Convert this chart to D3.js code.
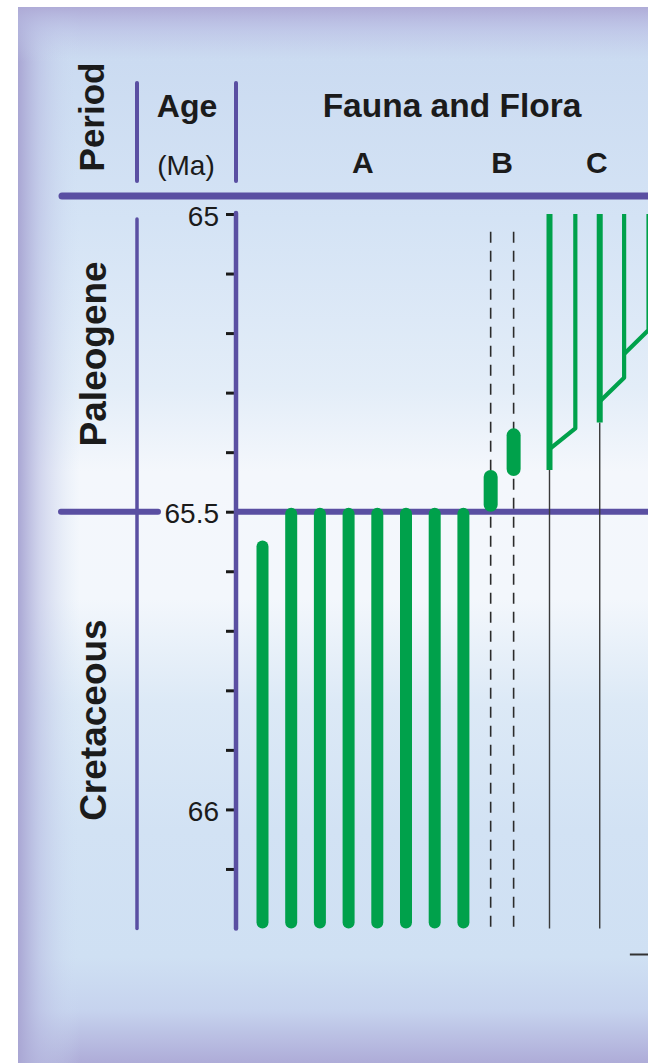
<!DOCTYPE html>
<html>
<head>
<meta charset="utf-8">
<script src="https://cdn.jsdelivr.net/npm/d3@7"></script>
<style>
  html, body { margin: 0; padding: 0; background: #ffffff; }
  svg { display: block; }
  text { font-family: "Liberation Sans", Arial, Helvetica, sans-serif; fill: #1b1b1b; }
</style>
</head>
<body>
<svg id="chart" width="648" height="1063"></svg>
<script>
// ---- Age axis (Ma) ----
const ageDomain = [65, 66.2];
const ageTicks = [65, 65.1, 65.2, 65.3, 65.4, 65.5, 65.6, 65.7, 65.8, 65.9, 66, 66.1];
const ageTickLabels = [65, 65.5, 66];

// ---- Periods ----
const periodNames = ["Paleogene", "Cretaceous"];
const periodBounds = [64.97, 65.5, 66.2];   // header rule, K-Pg boundary, base of section
const boundaryAge = 65.5;

// ---- Column headings ----
const groupNames = ["A", "B", "C"];
const groupLabelLanes = [3.5, 8.35, 11.65];

// ---- Group A: ranges from the base of the section up to last appearance ----
const aLanes = [0, 1, 2, 3, 4, 5, 6, 7];
const aLast = [65.555, 65.5, 65.5, 65.5, 65.5, 65.5, 65.5, 65.5];
const aBase = 66.2;

// ---- Group B: short ranges just above the boundary, with ghost ranges ----
const bLanes = [7.95, 8.75];
const bOldest = [65.5, 65.44];
const bYoungest = [65.43, 65.36];
const bGhostTop = 65.03;
const bGhostBase = 66.2;

// ---- Group C: radiating lineages (parentLane / joinAge give the branch point) ----
const cLanes = [10, 10.9, 11.75, 12.6, 13.45];
const cOrigin = [65.43, 65.36, 65.35, 65.275, 65.195];
const cParentLane = [null, 10, null, 11.75, 12.6];
const cJoinAge = [null, 65.395, null, 65.315, 65.235];
const cTop = 65.0;
const cStemBase = 66.2;

const svg = d3.select("#chart");
const W = 648, H = 1063;

const y = d3.scaleLinear().domain(ageDomain).range([214, 928.5]);
const x = d3.scaleLinear().domain([0, 1]).range([262.5, 291.2]);

const PURPLE = "#5a4fa2";
const GREEN = "#00a14b";

// ---- Panel background ----
const defs = svg.append("defs");
const vg = defs.append("linearGradient").attr("id", "bgV")
  .attr("x1", 0).attr("y1", 0).attr("x2", 0).attr("y2", 1);
[[0, "#bcc0e4"], [0.05, "#cbdbf1"], [0.2, "#d4e3f5"], [0.36, "#e3edf8"],
 [0.44, "#f4f7fc"], [0.56, "#f3f7fc"], [0.66, "#dce9f6"], [0.78, "#d2e2f4"],
 [0.9, "#cfe0f3"], [0.95, "#c6d3ee"], [1, "#aeacd8"]]
  .forEach(([o, c]) => vg.append("stop").attr("offset", o).attr("stop-color", c));

const lg = defs.append("linearGradient").attr("id", "bgL")
  .attr("x1", 0).attr("y1", 0).attr("x2", 1).attr("y2", 0);
[[0, "#a9a6d3", 1], [0.35, "#b9bde2", 0.6], [1, "#cfe0f3", 0]]
  .forEach(([o, c, a]) => lg.append("stop").attr("offset", o).attr("stop-color", c).attr("stop-opacity", a));

const tg = defs.append("linearGradient").attr("id", "bgT")
  .attr("x1", 0).attr("y1", 0).attr("x2", 0).attr("y2", 1);
[[0, "#aeaad6", 0.9], [0.4, "#bcc2e6", 0.45], [1, "#cfe0f3", 0]]
  .forEach(([o, c, a]) => tg.append("stop").attr("offset", o).attr("stop-color", c).attr("stop-opacity", a));

const bg = svg.append("g");
bg.append("rect").attr("x", 18).attr("y", 7).attr("width", W - 18).attr("height", H - 7)
  .attr("fill", "url(#bgV)");
bg.append("rect").attr("x", 18).attr("y", 7).attr("width", 62).attr("height", H - 7)
  .attr("fill", "url(#bgL)");
bg.append("rect").attr("x", 18).attr("y", 7).attr("width", W - 18).attr("height", 55)
  .attr("fill", "url(#bgT)");

// ---- Header rules and dividers ----
const frame = svg.append("g").attr("stroke", PURPLE).attr("stroke-linecap", "round");
frame.append("line").attr("x1", 62).attr("x2", W + 10)
  .attr("y1", 196).attr("y2", 196).attr("stroke-width", 7);
// header column dividers
[137, 236].forEach(xx => frame.append("line")
  .attr("x1", xx).attr("x2", xx).attr("y1", 83).attr("y2", 181).attr("stroke-width", 4));
// period column divider
frame.append("line").attr("x1", 137).attr("x2", 137)
  .attr("y1", 219).attr("y2", y(ageDomain[1])).attr("stroke-width", 3.5);
// K-Pg boundary, broken around the age label
frame.append("line").attr("x1", 61).attr("x2", 158)
  .attr("y1", y(boundaryAge)).attr("y2", y(boundaryAge)).attr("stroke-width", 6);
frame.append("line").attr("x1", 236).attr("x2", W + 10)
  .attr("y1", y(boundaryAge)).attr("y2", y(boundaryAge)).attr("stroke-width", 6)
  .attr("stroke-linecap", "butt");

// ---- Header text ----
const head = svg.append("g");
head.append("text").attr("transform", "translate(104,117) rotate(-90)")
  .attr("text-anchor", "middle").attr("font-size", 35).attr("font-weight", "bold").text("Period");
head.append("text").attr("x", 187).attr("y", 117).attr("text-anchor", "middle")
  .attr("font-size", 32).attr("font-weight", "bold").text("Age");
head.append("text").attr("x", 186).attr("y", 175).attr("text-anchor", "middle")
  .attr("font-size", 28).text("(Ma)");
head.append("text").attr("x", 452).attr("y", 117).attr("text-anchor", "middle")
  .attr("font-size", 33.5).attr("font-weight", "bold").text("Fauna and Flora");
head.selectAll("text.grp").data(groupNames).join("text").attr("class", "grp")
  .attr("x", (d, i) => x(groupLabelLanes[i])).attr("y", 173).attr("text-anchor", "middle")
  .attr("font-size", 30).attr("font-weight", "bold").text(d => d);

// ---- Period labels ----
const periodY = i => (i === 0 ? 196 : y(periodBounds[i]));
svg.selectAll("text.period").data(periodNames).join("text").attr("class", "period")
  .attr("transform", (d, i) => {
    const cy = (periodY(i) + y(periodBounds[i + 1])) / 2;
    return `translate(106,${cy}) rotate(-90)`;
  })
  .attr("text-anchor", "middle").attr("font-size", 37).attr("font-weight", "bold")
  .text(d => d);

// ---- Age axis ----
const axis = d3.axisLeft(y).tickValues(ageTicks).tickSize(10).tickPadding(7)
  .tickFormat(d => ageTickLabels.includes(d) ? String(d) : "");
const ax = svg.append("g").attr("transform", "translate(236,0)").call(axis);
ax.select(".domain").remove();
ax.selectAll(".tick line").attr("stroke", "#1a1a1a").attr("stroke-width", 3);
ax.selectAll(".tick text").attr("font-size", 28).attr("fill", "#1b1b1b")
  .attr("font-family", "'Liberation Sans', Arial, sans-serif").attr("dy", "0.4em");
svg.append("line").attr("x1", 236).attr("x2", 236)
  .attr("y1", y(ageDomain[0]) - 1).attr("y2", y(ageDomain[1]))
  .attr("stroke", PURPLE).attr("stroke-width", 4.5).attr("stroke-linecap", "round");

// ---- Group B ghost ranges (dashed) ----
svg.append("g").selectAll("line").data(bLanes).join("line")
  .attr("x1", d => x(d)).attr("x2", d => x(d))
  .attr("y1", y(bGhostTop)).attr("y2", y(bGhostBase))
  .attr("stroke", "#2b2b2b").attr("stroke-width", 1.6).attr("stroke-dasharray", "11,8");

// ---- Group C stems below origination ----
svg.append("g").selectAll("line")
  .data(cLanes.map((l, i) => ({ lane: l, origin: cOrigin[i], parent: cParentLane[i] }))
    .filter(d => d.parent === null))
  .join("line")
  .attr("x1", d => x(d.lane)).attr("x2", d => x(d.lane))
  .attr("y1", d => y(d.origin)).attr("y2", y(cStemBase))
  .attr("stroke", "#3a3a3a").attr("stroke-width", 1.4);

// ---- Group A ranges ----
const barW = 12;
svg.append("g").selectAll("rect").data(aLanes).join("rect")
  .attr("x", d => x(d) - barW / 2).attr("width", barW)
  .attr("y", (d, i) => y(aLast[i]) - 4).attr("height", (d, i) => y(aBase) - y(aLast[i]) + 4)
  .attr("rx", barW / 2).attr("fill", GREEN);

// ---- Group B ranges ----
const bW = 14;
svg.append("g").selectAll("rect").data(bLanes).join("rect")
  .attr("x", d => x(d) - bW / 2).attr("width", bW)
  .attr("y", (d, i) => y(bYoungest[i])).attr("height", (d, i) => y(bOldest[i]) - y(bYoungest[i]))
  .attr("rx", bW / 2).attr("fill", GREEN);

// ---- Group C lineages ----
const cData = cLanes.map((l, i) => ({
  lane: l, origin: cOrigin[i], parent: cParentLane[i], join: cJoinAge[i]
}));
svg.append("g").selectAll("path").data(cData).join("path")
  .attr("d", d => {
    const p = d3.path();
    if (d.parent !== null) {
      p.moveTo(x(d.parent), y(d.join));
      p.lineTo(x(d.lane), y(d.origin));
    } else {
      p.moveTo(x(d.lane), y(d.origin));
    }
    p.lineTo(x(d.lane), y(cTop));
    return p.toString();
  })
  .attr("fill", "none").attr("stroke", GREEN)
  .attr("stroke-width", d => d.parent === null ? 6 : 4.2)
  .attr("stroke-linejoin", "round");

// ---- short rule below the section (lower right) ----
svg.append("line").attr("x1", x(12.8)).attr("x2", W)
  .attr("y1", y(aBase) + 26).attr("y2", y(aBase) + 26)
  .attr("stroke", "#333").attr("stroke-width", 2);
</script>
</body>
</html>
